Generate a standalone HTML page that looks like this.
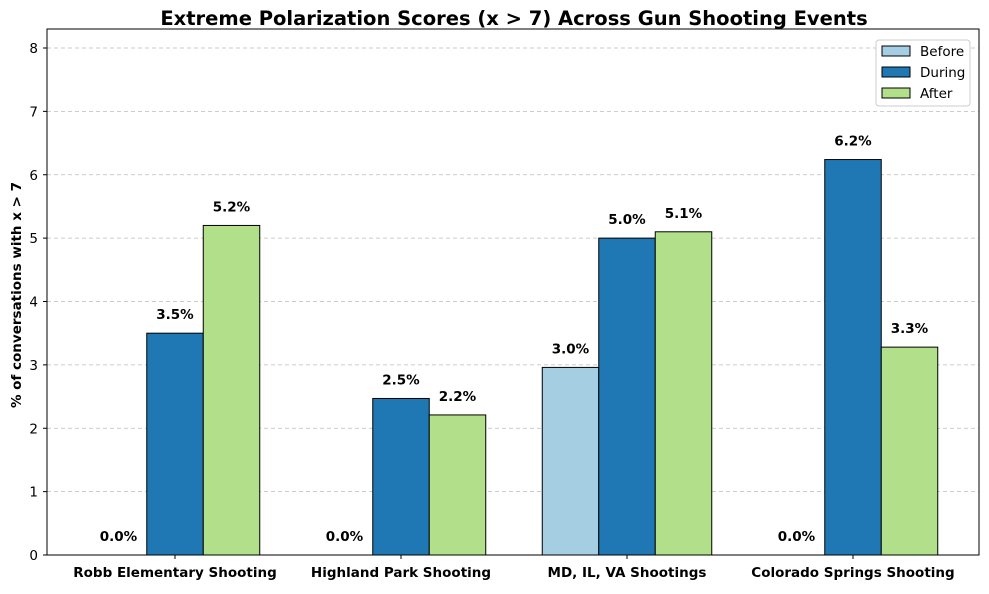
<!DOCTYPE html>
<html><head><meta charset="utf-8"><style>
body{margin:0;background:#fff;font-family:"Liberation Sans","DejaVu Sans",sans-serif}
svg text{font-family:"DejaVu Sans","Liberation Sans",sans-serif}
</style></head><body>
<svg id="chart" width="989" height="589" xmlns="http://www.w3.org/2000/svg">
<text x="514" y="25" text-anchor="middle" font-size="19.5" font-weight="bold">Extreme Polarization Scores (x &gt; 7) Across Gun Shooting Events</text>
<text transform="translate(21,295) rotate(-90)" text-anchor="middle" font-size="13.5" font-weight="bold">% of conversations with x &gt; 7</text>
<g id="grid"></g><g id="bars"></g><g id="labels"></g><g id="axes"></g>
<g>
<rect x="876" y="40" width="94" height="66" fill="#fff" stroke="#ccc" rx="3"/>
<rect x="882" y="46" width="28" height="10" fill="#a6cee3" stroke="#000"/>
<text x="920" y="56" font-size="13.5">Before</text>
<rect x="882" y="67" width="28" height="10" fill="#1f78b4" stroke="#000"/>
<text x="920" y="77" font-size="13.5">During</text>
<rect x="882" y="88" width="28" height="10" fill="#b2df8a" stroke="#000"/>
<text x="920" y="98" font-size="13.5">After</text>
</g>
</svg>
<script>
const categories=["Robb Elementary Shooting","Highland Park Shooting","MD, IL, VA Shootings","Colorado Springs Shooting"];
const beforeVals=[0,0,2.96,0];
const duringVals=[3.5,2.47,5.0,6.24];
const afterVals=[5.2,2.21,5.1,3.28];
const yTicks=[0,1,2,3,4,5,6,7,8];
const NS="http://www.w3.org/2000/svg";
const L=47,R=979,T=29,B=555;
const y=v=>B-v*63.375;
const x=i=>175+i*226;
const bw=56.5;
function mk(t,a,p){const e=document.createElementNS(NS,t);for(const k in a)e.setAttribute(k,a[k]);p.appendChild(e);return e;}
const grid=document.getElementById('grid'),bars=document.getElementById('bars'),labels=document.getElementById('labels'),axes=document.getElementById('axes');
yTicks.forEach(v=>{
 const g=mk('line',{x1:L,x2:R,y1:y(v),y2:y(v),stroke:'#bbb','stroke-dasharray':'4,3','stroke-width':0.8},grid);
 
 
 mk('line',{x1:L-4,x2:L,y1:y(v),y2:y(v),stroke:'#000'},axes);
 const t=mk('text',{x:L-9,y:y(v)+5,'text-anchor':'end','font-size':13.5},axes);
 t.textContent=v;
 
 
});
const series=[[beforeVals,'#a6cee3','before'],[duringVals,'#1f78b4','during'],[afterVals,'#b2df8a','after']];
categories.forEach((c,i)=>{
 series.forEach(([vals,col,nm],s)=>{
  const v=vals[i];const bx=x(i)+(s-1)*bw-bw/2;
  const r=mk('rect',{x:bx,y:y(v),width:bw,height:B-y(v),fill:col,stroke:'#000','stroke-width':1},bars);
  
  
  const t=mk('text',{x:bx+bw/2,y:y(v)-14,'text-anchor':'middle','font-size':13.5,'font-weight':'bold'},labels);
  t.textContent=v.toFixed(1)+'%';
  
  
 });
 mk('line',{x1:x(i),x2:x(i),y1:B,y2:B+4,stroke:'#000'},axes);
 const t=mk('text',{x:x(i),y:B+22,'text-anchor':'middle','font-size':13.5,'font-weight':'bold'},axes);
 t.textContent=c;
 
 
});
const f=mk('rect',{x:L,y:T,width:R-L,height:B-T,fill:'none',stroke:'#000','stroke-width':1},axes);


</script>
</body></html>
